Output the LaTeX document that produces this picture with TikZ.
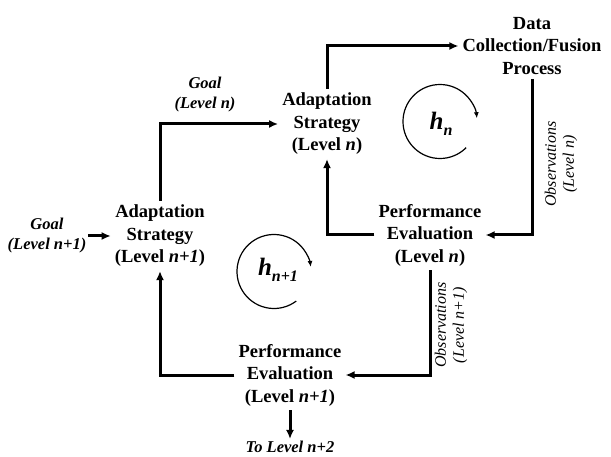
\documentclass[tikz,border=0pt]{standalone}
\usepackage{fontspec}
\setmainfont{Liberation Serif}
\usepackage{tikz}
\usetikzlibrary{arrows.meta}

\tikzset{
	blk/.style={font=\fontsize{18.5}{22.5}\selectfont\bfseries, align=center, inner sep=4pt},
	goal/.style={font=\fontsize{16.5}{20}\selectfont\bfseries\itshape, align=center, inner sep=2pt},
	obs/.style={font=\fontsize{16}{18}\selectfont\itshape, align=center, rotate=90},
	hlab/.style={font=\fontsize{25}{25}\selectfont\bfseries\itshape},
	link/.style={line width=3pt, -{Latex[length=9pt,width=8pt]}},
	loop/.style={line width=1.2pt, -{Latex[length=6pt,width=5pt]}}
}
\newcommand{\hsub}[1]{\raisebox{-6pt}{\fontsize{16}{16}\selectfont #1}}

\begin{document}
\begin{tikzpicture}[x=1pt,y=1pt]
	\useasboundingbox (0,0) rectangle (611,-457);
	\node[blk] (asn) at (327,-124) {Adaptation\\Strategy\\(Level \textit{n})};
	\node[blk] (dcf) at (532,-46) {Data\\Collection/Fusion\\Process};
	\node[blk] (pen) at (430,-235) {Performance\\Evaluation\\(Level \textit{n})};
	\node[blk] (asn1) at (160,-236) {Adaptation\\Strategy\\(Level \textit{n+1})};
	\node[blk] (pen1) at (290,-375) {Performance\\Evaluation\\(Level \textit{n+1})};
	\node[goal] (gn1) at (47,-236) {Goal\\(Level n+1)};
	\node[goal] (gn) at (205,-95) {Goal\\(Level n)};
	\node[goal] (nxt) at (290,-447) {To Level n+2};
	\node[obs] (obsn) at (561,-164) {Observations\\(Level n)};
	\node[obs] (obsn1) at (451,-325) {Observations\\(Level n+1)};

	\draw[link] (gn1) -- (asn1);
	\draw[link] (asn1) |- (asn);
	\draw[link] (asn) |- (dcf);
	\draw[link] (dcf) |- (pen);
	\draw[link] (pen) -| (asn);
	\draw[link] (pen) |- (pen1);
	\draw[link] (pen1) -| (asn1);
	\draw[link] (pen1) -- (nxt);

	\coordinate (cn) at (440,-121.5);
	\coordinate (cn1) at (274,-271.5);
	\draw[loop] (cn) ++(-45:37pt) arc[start angle=-45,end angle=-355,radius=37pt];
	\draw[loop] (cn1) ++(-53:37pt) arc[start angle=-53,end angle=-353,radius=37pt];
	\node[hlab] (hn) at (441,-124) {h\hsub{n}};
	\node[hlab] (hn1) at (278,-270) {h\hsub{n+1}};
\end{tikzpicture}
\end{document}
